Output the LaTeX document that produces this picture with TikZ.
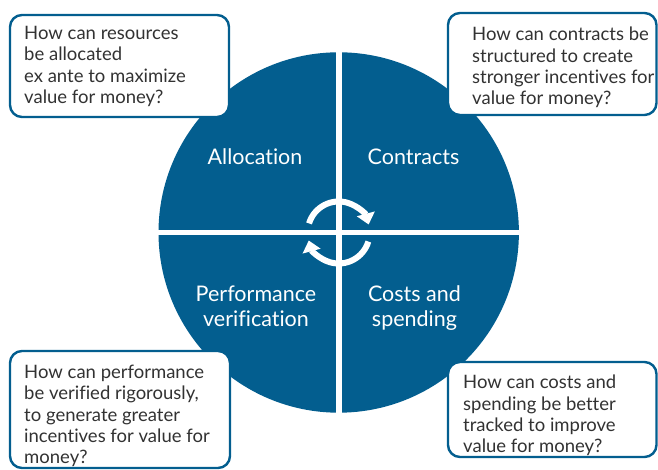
\documentclass[tikz,border=0pt]{standalone}
\usepackage{fontspec}
\setmainfont[Ligatures=NoCommon]{Lato}
\usetikzlibrary{arrows.meta,calc}
\definecolor{wheelblue}{RGB}{3,94,143}
\definecolor{qtext}{RGB}{50,50,50}
\begin{document}
\begin{tikzpicture}[x=1pt,y=1pt,
  qbox/.style={draw=wheelblue, line width=2.4pt, fill=white, rounded corners=12pt},
  qtext/.style={anchor=north west, inner sep=0pt, align=left, text=qtext,
    font=\fontsize{18.5}{21.3}\selectfont},
  sector/.style={text=white, inner sep=0pt, align=center,
    font=\fontsize{21.5}{25.5}\selectfont},
  cycle/.style={white, line width=6pt, -{Triangle[length=11pt,width=18pt]}}]
\useasboundingbox (0,0) rectangle (658,470);
\coordinate (c) at (338.7,237.5);
% wheel split into four quarters
\fill[wheelblue] (c) circle[radius=180.2];
\fill[white] ($(c)+(-3,-182)$) rectangle ($(c)+(3,182)$);
\fill[white] ($(c)+(-182,-2.6)$) rectangle ($(c)+(182,2.6)$);
% quarter labels
\node[sector, anchor=base] (alloc) at (255,305) {Allocation};
\node[sector, anchor=base] (contr) at (413.5,305) {Contracts};
\node[sector, anchor=base] (perf) at (256,143) {Performance\\verification};
\node[sector, anchor=base] (costs) at (414.5,143) {Costs and\\spending};
% circular arrows in the middle
\draw[cycle] ($(c)+(163:31)$) arc[start angle=163, end angle=15, radius=31];
\draw[cycle] ($(c)+(-17:31)$) arc[start angle=-17, end angle=-165, radius=31];
% question boxes
\draw[qbox] (10,455) rectangle (229,353);
\node[qtext] (qa) at (24,444) {How can resources\\be allocated\\ex ante to maximize\\value for money?};
\draw[qbox] (448,457) rectangle (656.5,355);
\node[qtext] (qc) at (472,443) {How can contracts be\\structured to create\\stronger incentives for\\value for money?};
\draw[qbox] (10,119) rectangle (230,2);
\node[qtext] (qp) at (24,105) {How can performance\\be verified rigorously,\\to generate greater\\incentives for value for\\money?};
\draw[qbox] (448,108) rectangle (656.5,13);
\node[qtext] (qs) at (463,95) {How can costs and\\spending be better\\tracked to improve\\value for money?};
\end{tikzpicture}
\end{document}
